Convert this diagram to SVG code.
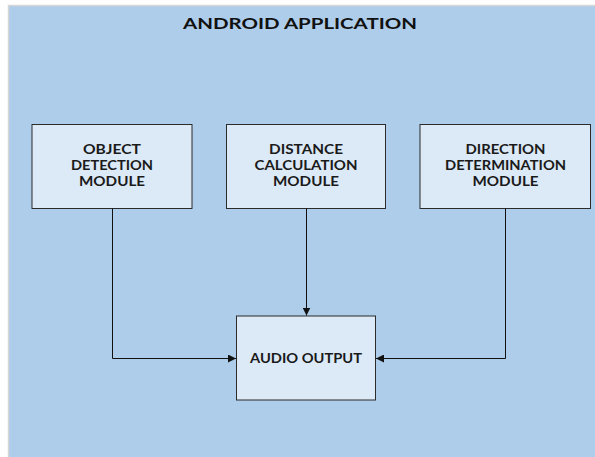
<svg xmlns="http://www.w3.org/2000/svg" width="595" height="457" viewBox="0 0 595 457">
  <style>
    .panel { fill: #aecdea; stroke: #d6d6d6; stroke-width: 1.5; }
    .box { fill: #dce9f6; stroke: #2b2b2b; stroke-width: 1; }
    .label { font-family: Lato, "Liberation Sans", sans-serif; font-weight: 700; font-size: 13px; fill: #1a1a1a; text-anchor: middle; }
    .title { font-family: Lato, "Liberation Sans", sans-serif; font-weight: 700; font-size: 16px; fill: #111; text-anchor: middle; }
    .wire { fill: none; stroke: #111; stroke-width: 1; }
  </style>
  <defs>
    <marker id="arrow" viewBox="0 0 10 10" refX="10" refY="5" markerWidth="8" markerHeight="8" markerUnits="userSpaceOnUse" orient="auto">
      <path d="M0,0 L10,5 L0,10 z" fill="#111"/>
    </marker>
  </defs>

  <rect width="595" height="457" fill="#ffffff"/>
  <rect class="panel" x="8.5" y="5.5" width="600" height="460"/>

  <text class="title" x="300" y="29" textLength="234" lengthAdjust="spacingAndGlyphs">ANDROID APPLICATION</text>

  <g id="object-detection">
    <rect class="box" x="32" y="124.5" width="160" height="84"/>
    <text class="label" x="112" y="154" textLength="58" lengthAdjust="spacingAndGlyphs">OBJECT</text>
    <text class="label" x="112" y="170" textLength="82" lengthAdjust="spacingAndGlyphs">DETECTION</text>
    <text class="label" x="112" y="186" textLength="66" lengthAdjust="spacingAndGlyphs">MODULE</text>
  </g>

  <g id="distance-calculation">
    <rect class="box" x="226.5" y="124.5" width="159" height="84"/>
    <text class="label" x="306" y="154" textLength="74" lengthAdjust="spacingAndGlyphs">DISTANCE</text>
    <text class="label" x="306" y="170" textLength="103" lengthAdjust="spacingAndGlyphs">CALCULATION</text>
    <text class="label" x="306" y="186" textLength="66" lengthAdjust="spacingAndGlyphs">MODULE</text>
  </g>

  <g id="direction-determination">
    <rect class="box" x="420" y="124.5" width="170.5" height="84"/>
    <text class="label" x="505.5" y="154" textLength="80" lengthAdjust="spacingAndGlyphs">DIRECTION</text>
    <text class="label" x="505.5" y="170" textLength="121" lengthAdjust="spacingAndGlyphs">DETERMINATION</text>
    <text class="label" x="505.5" y="186" textLength="66" lengthAdjust="spacingAndGlyphs">MODULE</text>
  </g>

  <g id="audio-output">
    <rect class="box" x="236.5" y="316" width="139" height="84"/>
    <text class="label" x="306" y="363" textLength="112" lengthAdjust="spacingAndGlyphs">AUDIO OUTPUT</text>
  </g>

  <g id="connectors">
    <path class="wire" d="M112.5,208.5 V358.5 H236" marker-end="url(#arrow)"/>
    <path class="wire" d="M306.5,208.5 V315.5" marker-end="url(#arrow)"/>
    <path class="wire" d="M505.5,208.5 V358.5 H376" marker-end="url(#arrow)"/>
  </g>
</svg>
